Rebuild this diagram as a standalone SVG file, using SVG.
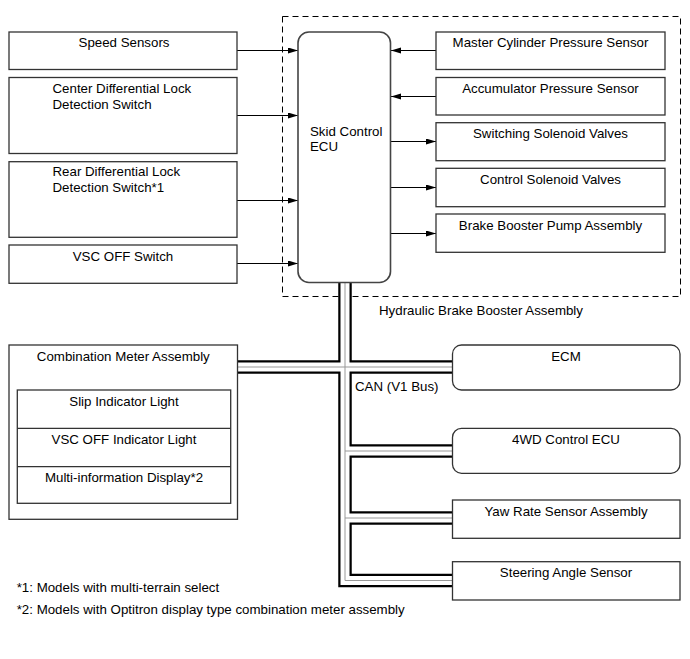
<svg xmlns="http://www.w3.org/2000/svg" width="690" height="659" viewBox="0 0 690 659">
<style>
text{font-family:"Liberation Sans",Arial,sans-serif;font-size:13.3px;fill:#000}
.c{text-anchor:middle}
.box{fill:#fff;stroke:#333;stroke-width:1.3}
.ecu{fill:#fff;stroke:#444;stroke-width:1.6}
.arr{stroke:#000;stroke-width:1;fill:none;marker-end:url(#ah)}
.bk{stroke:#000;stroke-width:13.5;fill:none;stroke-linejoin:miter}
.wh{stroke:#fff;stroke-width:9;fill:none;stroke-linejoin:miter}
.gr{stroke:#999;stroke-width:1;fill:none}
</style>
<defs>
<marker id="ah" markerUnits="userSpaceOnUse" markerWidth="11" markerHeight="7" refX="10" refY="3" orient="auto">
<path d="M0,0 L10,3 L0,6 z" fill="#000"/>
</marker>
</defs>
<rect x="0" y="0" width="690" height="659" fill="#fff"/>

<g id="hydraulic-brake-booster-assembly">
<rect x="282.5" y="16.5" width="398" height="280" fill="none" stroke="#000" stroke-width="1" stroke-dasharray="6 4"/>
<text x="379" y="314.5">Hydraulic Brake Booster Assembly</text>
</g>

<g id="connectors">
<path class="arr" d="M237,50.5 H298"/>
<path class="arr" d="M237,115.5 H298"/>
<path class="arr" d="M237,200.5 H298"/>
<path class="arr" d="M237,263.5 H298"/>
<path class="arr" d="M436,50.5 H391"/>
<path class="arr" d="M436,96.5 H391"/>
<path class="arr" d="M391,141.5 H436"/>
<path class="arr" d="M391,187.5 H436"/>
<path class="arr" d="M391,233.5 H436"/>
<g id="can-bus">
<path class="bk" d="M345,282 V580.5 H452"/>
<path class="bk" d="M345,367 H452"/>
<path class="bk" d="M345,367 H237.5"/>
<path class="bk" d="M345,451 H452"/>
<path class="bk" d="M345,518 H452"/>
<path class="wh" d="M345,282 V580.5 H452"/>
<path class="wh" d="M345,367 H452"/>
<path class="wh" d="M345,367 H237.5"/>
<path class="wh" d="M345,451 H452"/>
<path class="wh" d="M345,518 H452"/>
<path class="gr" d="M345,282 V580.5 H452"/>
<path class="gr" d="M345,367 H452"/>
<path class="gr" d="M345,367 H237.5"/>
<path class="gr" d="M345,451 H452"/>
<path class="gr" d="M345,518 H452"/>
</g>
</g>

<g id="skid-control-ecu">
<rect class="ecu" x="298" y="32" width="92.5" height="250.5" rx="11"/>
<text x="310" y="135.5">Skid Control</text>
<text x="310" y="151">ECU</text>
</g>

<g id="speed-sensors">
<rect class="box" x="9" y="32" width="228" height="37.5"/>
<text class="c" x="124" y="47">Speed Sensors</text>
</g>
<g id="center-diff-lock-switch">
<rect class="box" x="9" y="77.5" width="228" height="76"/>
<text x="52.5" y="93">Center Differential Lock</text>
<text x="52.5" y="109">Detection Switch</text>
</g>
<g id="rear-diff-lock-switch">
<rect class="box" x="9" y="161.7" width="228" height="75.6"/>
<text x="52.5" y="176">Rear Differential Lock</text>
<text x="52.5" y="192">Detection Switch*1</text>
</g>
<g id="vsc-off-switch">
<rect class="box" x="9" y="245" width="228" height="38.3"/>
<text class="c" x="123" y="260.5">VSC OFF Switch</text>
</g>

<g id="master-cylinder-pressure-sensor">
<rect class="box" x="436" y="32" width="229" height="37.5"/>
<text class="c" x="550.5" y="47">Master Cylinder Pressure Sensor</text>
</g>
<g id="accumulator-pressure-sensor">
<rect class="box" x="436" y="77.5" width="229" height="37.5"/>
<text class="c" x="550.5" y="93">Accumulator Pressure Sensor</text>
</g>
<g id="switching-solenoid-valves">
<rect class="box" x="436" y="122.7" width="229" height="38"/>
<text class="c" x="550.5" y="138">Switching Solenoid Valves</text>
</g>
<g id="control-solenoid-valves">
<rect class="box" x="436" y="168.3" width="229" height="38.4"/>
<text class="c" x="550.5" y="184">Control Solenoid Valves</text>
</g>
<g id="brake-booster-pump-assembly">
<rect class="box" x="436" y="214" width="229" height="38.3"/>
<text class="c" x="550.5" y="229.5">Brake Booster Pump Assembly</text>
</g>

<g id="combination-meter-assembly">
<rect class="box" x="9" y="345" width="228.5" height="174.3"/>
<text class="c" x="123.3" y="360.5">Combination Meter Assembly</text>
<rect class="box" x="17.3" y="390" width="213.4" height="113.3"/>
<line x1="17.3" y1="428.3" x2="230.7" y2="428.3" stroke="#333" stroke-width="1.3"/>
<line x1="17.3" y1="466.7" x2="230.7" y2="466.7" stroke="#333" stroke-width="1.3"/>
<text class="c" x="124" y="405.5">Slip Indicator Light</text>
<text class="c" x="124" y="444">VSC OFF Indicator Light</text>
<text class="c" x="124" y="482">Multi-information Display*2</text>
</g>

<g id="ecm">
<rect class="box" x="452.5" y="345" width="227.5" height="45" rx="9"/>
<text class="c" x="566" y="360.5">ECM</text>
</g>
<text x="355" y="390.5">CAN (V1 Bus)</text>
<g id="4wd-control-ecu">
<rect class="box" x="452.5" y="428.3" width="227.5" height="45" rx="9"/>
<text class="c" x="566" y="444">4WD Control ECU</text>
</g>
<g id="yaw-rate-sensor-assembly">
<rect class="box" x="452.5" y="500" width="227.5" height="38.3"/>
<text class="c" x="566" y="515.5">Yaw Rate Sensor Assembly</text>
</g>
<g id="steering-angle-sensor">
<rect class="box" x="452.5" y="561.7" width="227.5" height="38.3"/>
<text class="c" x="566" y="577">Steering Angle Sensor</text>
</g>

<g id="footnotes">
<text x="16.7" y="592">*1: Models with multi-terrain select</text>
<text x="16.7" y="614">*2: Models with Optitron display type combination meter assembly</text>
</g>
</svg>
